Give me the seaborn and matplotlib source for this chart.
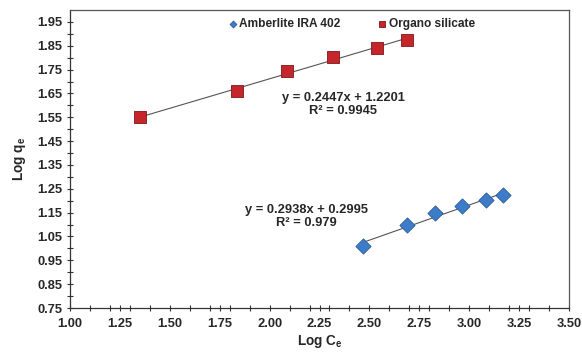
import numpy as np
import pandas as pd
import matplotlib
matplotlib.use("Agg")
import matplotlib.pyplot as plt
import seaborn as sns
from matplotlib.ticker import MultipleLocator, FixedLocator

# Data
amberlite_log_ce = [2.469, 2.687, 2.829, 2.962, 3.083, 3.171]
amberlite_log_qe = [1.012, 1.097, 1.147, 1.177, 1.201, 1.223]

organo_log_ce = [1.351, 1.837, 2.087, 2.318, 2.538, 2.688]
organo_log_qe = [1.550, 1.660, 1.744, 1.803, 1.841, 1.874]

series_names = ["Amberlite IRA 402", "Organo silicate"]
equations = ["y = 0.2938x + 0.2995\nR² = 0.979",
             "y = 0.2447x + 1.2201\nR² = 0.9945"]

df = pd.concat([
    pd.DataFrame({"x": amberlite_log_ce, "y": amberlite_log_qe, "series": series_names[0]}),
    pd.DataFrame({"x": organo_log_ce, "y": organo_log_qe, "series": series_names[1]}),
])

sns.set_style("ticks")
plt.rcParams["font.family"] = ["Liberation Sans", "DejaVu Sans"]
plt.rcParams["font.weight"] = "bold"
plt.rcParams["mathtext.fontset"] = "custom"
plt.rcParams["mathtext.rm"] = "Liberation Sans:bold"
plt.rcParams["mathtext.bf"] = "Liberation Sans:bold"
plt.rcParams["mathtext.it"] = "Liberation Sans:bold"

fig = plt.figure(figsize=(5.82, 3.54), dpi=100)
ax = fig.add_axes([0.1203, 0.1299, 0.8574, 0.8418])

colors = {"Amberlite IRA 402": "#3d7cc9", "Organo silicate": "#c4262b"}
edges = {"Amberlite IRA 402": "#2b5b98", "Organo silicate": "#7f1518"}
markers = {"Amberlite IRA 402": "D", "Organo silicate": "s"}
sizes = {"Amberlite IRA 402": 60, "Organo silicate": 85}

# -----------------------------------------------
#  Trend lines
# -----------------------------------------------
for name in series_names:
    sub = df[df["series"] == name]
    sns.regplot(data=sub, x="x", y="y", ax=ax, scatter=False, ci=None,
                truncate=True, line_kws={"color": "#555555", "lw": 0.8, "zorder": 2})

# -----------------------------------------------
#  Points
# -----------------------------------------------
for name in series_names:
    sub = df[df["series"] == name]
    ax.scatter(sub["x"], sub["y"], marker=markers[name], s=sizes[name],
               color=colors[name], edgecolor=edges[name], linewidth=0.6,
               zorder=3, label=name)

# equation labels
ax.text(2.185, 1.132, equations[0], ha="center", va="center",
        fontsize=9.3, fontweight="bold", linespacing=1.1)
ax.text(2.368, 1.602, equations[1], ha="center", va="center",
        fontsize=9.3, fontweight="bold", linespacing=1.1)

ax.set_xlim(1.0, 3.5)
ax.set_ylim(0.75, 2.0)
ax.xaxis.set_major_locator(MultipleLocator(0.25))
ax.xaxis.set_minor_locator(MultipleLocator(0.1))
ax.yaxis.set_major_locator(FixedLocator(np.arange(0.75, 1.96, 0.1)))
ax.yaxis.set_minor_locator(FixedLocator(np.arange(0.80, 2.0, 0.1)))
ax.xaxis.set_major_formatter(matplotlib.ticker.FormatStrFormatter("%.2f"))
ax.yaxis.set_major_formatter(matplotlib.ticker.FormatStrFormatter("%.2f"))

ax.tick_params(which="both", direction="inout", length=5, width=0.8,
               color="#333333", labelsize=9.3)
ax.tick_params(axis="x", pad=5)
ax.tick_params(axis="y", pad=3)
for lab in ax.get_xticklabels() + ax.get_yticklabels():
    lab.set_fontweight("bold")

for side in ["left", "bottom"]:
    ax.spines[side].set_color("#333333")
    ax.spines[side].set_linewidth(0.9)
for side in ["top", "right"]:
    ax.spines[side].set_visible(True)
    ax.spines[side].set_color("#555555")
    ax.spines[side].set_linewidth(0.9)

ax.set_xlabel(r"Log C$_\mathbf{e}$", fontsize=9.8, fontweight="bold", labelpad=2)
ax.set_ylabel(r"Log q$_\mathbf{e}$", fontsize=9.8, fontweight="bold", labelpad=7)

leg = ax.legend(loc="upper center", bbox_to_anchor=(0.563, 1.01), ncol=2,
                frameon=False, fontsize=8.6, handletextpad=0.05, columnspacing=3.0,
                markerscale=0.45, handlelength=1.0)
for t in leg.get_texts():
    t.set_fontweight("bold")

fig.savefig("out.png", dpi=100)
